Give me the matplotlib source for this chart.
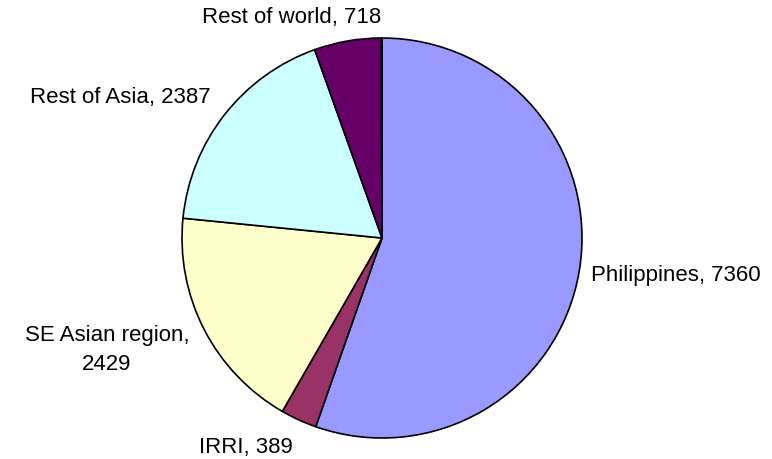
import matplotlib
matplotlib.use("Agg")
import matplotlib.pyplot as plt

labels = ["Philippines", "IRRI", "SE Asian region", "Rest of Asia", "Rest of world", ""]
values = [7360, 389, 2429, 2387, 718, 8]
colors = ["#9999FF", "#993366", "#FFFFCC", "#CCFFFF", "#660066", "#660066"]
label_text = ["Philippines, 7360", "IRRI, 389", "SE Asian region,\n2429",
              "Rest of Asia, 2387", "Rest of world, 718", ""]
label_pos = [(1.045, -0.19, "left"), (-0.68, -1.045, "center"), (-1.375, -0.56, "center"),
             (-1.31, 0.705, "center"), (-0.45, 1.10, "center"), (0, 0, "center")]

plt.rcParams['font.family'] = ['Liberation Sans', 'DejaVu Sans']
fig = plt.figure(figsize=(7.72, 4.59), dpi=100)
ax = fig.add_axes([0, 0, 1, 1])
ax.pie(values, colors=colors, startangle=90, counterclock=False, radius=1.0,
       wedgeprops=dict(edgecolor="black", linewidth=1.2))
for t, (x, y, ha) in zip(label_text, label_pos):
    if t:
        ax.text(x, y, t, ha=ha, va="center", fontsize=16, color="black", linespacing=1.45)
ax.set_xlim(-382/200, (772-382)/200)
ax.set_ylim(-(459-238)/200, 238/200)
ax.set_aspect("auto")
ax.axis("off")
fig.savefig("out.png", dpi=100)
